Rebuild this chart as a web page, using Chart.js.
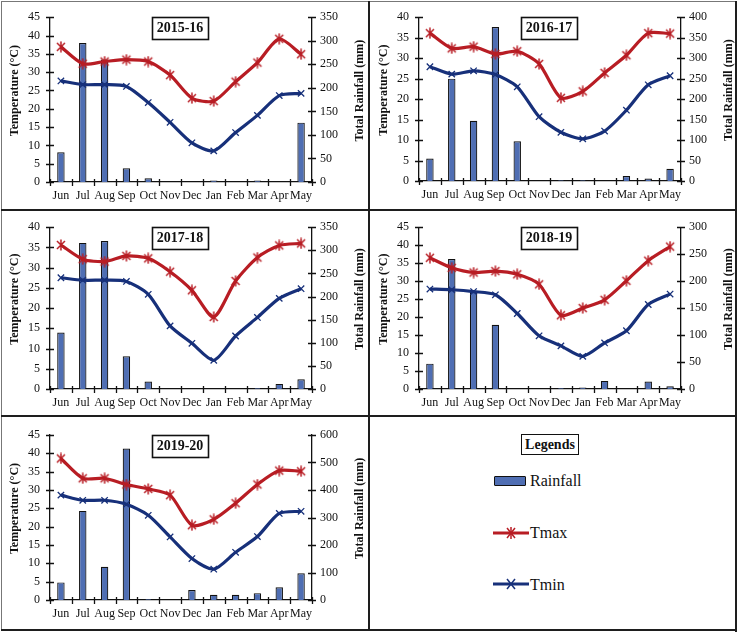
<!DOCTYPE html>
<html><head><meta charset="utf-8">
<script src="https://cdn.jsdelivr.net/npm/chart.js@4/dist/chart.umd.min.js"></script>
<style>
html,body{margin:0;padding:0;background:#fff}
body{width:739px;height:633px;overflow:hidden;position:relative;font-family:"Liberation Serif","Times New Roman",serif;color:#111}
.p{position:absolute}
.ln{position:absolute;background:#1e1e1e}
canvas{display:block}
</style></head><body>

<script>
// ---------- data ----------
const months = ['Jun','Jul','Aug','Sep','Oct','Nov','Dec','Jan','Feb','Mar','Apr','May'];

const rain1516 = [63, 295, 260, 29, 8, 0, 0, 3, 0, 3, 0, 126];
const tmax1516 = [36.9, 32.3, 32.9, 33.4, 32.9, 29.2, 22.9, 22.1, 27.4, 32.6, 39.1, 34.9];
const tmin1516 = [27.6, 26.6, 26.6, 26.1, 21.7, 16.3, 10.7, 8.5, 13.5, 18.2, 23.6, 24.2];

const rain1617 = [55, 250, 147, 376, 97, 0, 2, 2, 0, 12, 6, 30];
const tmax1617 = [36.1, 32.4, 32.8, 31.0, 31.7, 28.6, 20.3, 21.9, 26.4, 30.7, 36.1, 36.0];
const tmin1617 = [27.9, 26.1, 26.9, 26.0, 23.0, 15.7, 11.9, 10.3, 12.2, 17.3, 23.5, 25.7];

const rain1718 = [122, 316, 320, 71, 16, 0, 0, 0, 0, 2, 11, 21];
const tmax1718 = [35.6, 32.1, 31.5, 32.9, 32.3, 29.0, 24.4, 17.8, 26.7, 32.5, 35.5, 36.0];
const tmin1718 = [27.5, 26.9, 26.9, 26.6, 23.4, 15.6, 11.3, 7.1, 13.1, 17.7, 22.4, 24.8];

const rain1819 = [47, 241, 182, 119, 0, 0, 2, 3, 15, 0, 14, 5];
const tmax1819 = [36.5, 33.7, 32.4, 32.8, 31.9, 29.1, 20.5, 22.5, 24.8, 30.1, 35.7, 39.6];
const tmin1819 = [27.8, 27.6, 27.1, 26.2, 21.0, 14.8, 12.0, 9.1, 12.8, 16.2, 23.5, 26.4];

const rain1920 = [64, 324, 121, 551, 4, 0, 36, 19, 19, 25, 46, 97];
const tmax1920 = [38.6, 33.2, 33.2, 31.5, 30.3, 28.6, 20.4, 22.0, 26.4, 31.5, 35.3, 35.1];
const tmin1920 = [28.6, 27.2, 27.2, 26.1, 23.1, 17.2, 11.3, 8.4, 13.0, 17.3, 23.6, 24.2];

const seasons = ['2015-16','2016-17','2017-18','2018-19','2019-20'];
const tempMax = [45, 40, 40, 45, 45];
const rainMax = [350, 400, 350, 300, 600];
const rainStep = [50, 50, 50, 50, 100];

const leftTitle = 'Temperature (°C)';
const rightTitle = 'Total Rainfall (mm)';
const legendLabels = ['Rainfall', 'Tmax', 'Tmin'];
</script>

<div class="p" style="left:0;top:0"><canvas id="c0" width="369" height="210"></canvas></div>
<div class="p" style="left:369px;top:0"><canvas id="c1" width="370" height="210"></canvas></div>
<div class="p" style="left:0;top:210px"><canvas id="c2" width="369" height="206"></canvas></div>
<div class="p" style="left:369px;top:210px"><canvas id="c3" width="370" height="206"></canvas></div>
<div class="p" style="left:0;top:416px"><canvas id="c4" width="369" height="217"></canvas></div>

<!-- legend panel -->
<div class="p" style="left:521px;top:434px;width:56px;height:19px;border:1.5px solid #111;font-weight:bold;font-size:14px;line-height:19px;text-align:center" id="legTitle">Legends</div>
<div class="p" style="left:494px;top:476px;width:30px;height:8px;background:#4F6EB3;border:1.6px solid #111;border-radius:1px"></div>
<div class="p" id="lg0" style="left:530px;top:471px;font-size:16px;line-height:20px"></div>
<svg class="p" style="left:492px;top:525px" width="38" height="16">
  <line x1="1" y1="8" x2="37" y2="8" stroke="#B81D24" stroke-width="3"/>
  <g stroke="#B81D24" stroke-width="1.5"><line x1="15" y1="3" x2="23" y2="13"/><line x1="15" y1="13" x2="23" y2="3"/><line x1="19" y1="2" x2="19" y2="14"/></g>
</svg>
<div class="p" id="lg1" style="left:530px;top:523px;font-size:16px;line-height:20px"></div>
<svg class="p" style="left:492px;top:576px" width="38" height="16">
  <line x1="1" y1="8" x2="37" y2="8" stroke="#17307A" stroke-width="3"/>
  <g stroke="#17307A" stroke-width="1.5"><line x1="15" y1="3" x2="23" y2="13"/><line x1="15" y1="13" x2="23" y2="3"/></g>
</svg>
<div class="p" id="lg2" style="left:530px;top:575px;font-size:16px;line-height:20px"></div>

<!-- panel borders -->
<div class="ln" style="left:1px;top:1px;width:1px;height:630px;background:#777"></div>
<div class="ln" style="left:1px;top:1px;width:736px;height:1px;background:#777"></div>
<div class="ln" style="left:735px;top:1px;width:2px;height:631px"></div>
<div class="ln" style="left:1px;top:629px;width:736px;height:2px"></div>
<div class="ln" style="left:368px;top:1px;width:2px;height:630px"></div>
<div class="ln" style="left:1px;top:209px;width:736px;height:2px"></div>
<div class="ln" style="left:1px;top:415px;width:736px;height:2px"></div>

<script>
document.getElementById('lg0').textContent = legendLabels[0];
document.getElementById('lg1').textContent = legendLabels[1];
document.getElementById('lg2').textContent = legendLabels[2];

const FONT = '"Liberation Serif","Times New Roman",serif';
const BAR = '#4F6EB3', RED = '#B81D24', NAVY = '#17307A';

const geom = [
  {W:369,H:210,T:12,B:182},
  {W:370,H:210,T:12,B:181},
  {W:369,H:206,T:14,B:179},
  {W:370,H:206,T:14,B:179},
  {W:369,H:217,T:19,B:184}
];
const L = 50, R = 312;

const rains = [rain1516, rain1617, rain1718, rain1819, rain1920];
const tmaxs = [tmax1516, tmax1617, tmax1718, tmax1819, tmax1920];
const tmins = [tmin1516, tmin1617, tmin1718, tmin1819, tmin1920];

// Excel-like "star" marker: x with a vertical bar
function makeStar(color) {
  const c = document.createElement('canvas');
  c.width = 12; c.height = 12;
  const g = c.getContext('2d');
  g.strokeStyle = color; g.lineWidth = 1.5;
  g.beginPath();
  g.moveTo(2, 2); g.lineTo(10, 10);
  g.moveTo(2, 10); g.lineTo(10, 2);
  g.moveTo(6, 0.5); g.lineTo(6, 11.5);
  g.stroke();
  return c;
}
const starRed = makeStar(RED);

const decor = {
  id: 'decor',
  afterDraw(chart, args, opts) {
    const ctx = chart.ctx, a = chart.chartArea;
    const y = chart.scales.y, y1 = chart.scales.y1, x = chart.scales.x;
    ctx.save();
    ctx.strokeStyle = '#111';
    ctx.lineWidth = 1.3;
    ctx.beginPath();
    y.ticks.forEach(t => { const py = Math.round(y.getPixelForValue(t.value)) + 0.5; ctx.moveTo(a.left - 4, py); ctx.lineTo(a.left + 4, py); });
    y1.ticks.forEach(t => { const py = Math.round(y1.getPixelForValue(t.value)) + 0.5; ctx.moveTo(a.right - 4, py); ctx.lineTo(a.right + 4, py); });
    const sp = x.getPixelForValue(1) - x.getPixelForValue(0);
    for (let i = 0; i <= months.length; i++) {
      const px = Math.round(x.getPixelForValue(0) - sp / 2 + i * sp) + 0.5;
      ctx.moveTo(px, a.bottom - 3); ctx.lineTo(px, a.bottom + 4);
    }
    ctx.stroke();
    ctx.fillStyle = '#111';
    ctx.font = 'bold 12px ' + FONT;
    ctx.textAlign = 'center'; ctx.textBaseline = 'middle';
    const cy = (a.top + a.bottom) / 2 - 9;
    ctx.save(); ctx.translate(15, cy); ctx.rotate(-Math.PI / 2); ctx.fillText(leftTitle, 0, 0); ctx.restore();
    ctx.save(); ctx.translate(360, cy); ctx.rotate(-Math.PI / 2); ctx.fillText(rightTitle, 0, 0); ctx.restore();
    ctx.font = 'bold 14px ' + FONT;
    const tx = (a.left + a.right) / 2 - 1, ty = a.top + 10.5;
    const w = 56, h = 22;
    ctx.fillStyle = '#fff';
    ctx.fillRect(tx - w / 2, ty - h / 2, w, h);
    ctx.lineWidth = 1.6;
    ctx.strokeRect(Math.round(tx - w / 2) + 0.5, Math.round(ty - h / 2) + 0.5, w, h);
    ctx.fillStyle = '#111';
    ctx.fillText(opts.title, tx, ty + 1);
    ctx.restore();
  }
};

seasons.forEach((s, i) => {
  const g = geom[i];
  new Chart(document.getElementById('c' + i), {
    type: 'bar',
    plugins: [decor],
    data: {
      labels: months,
      datasets: [
        { type: 'line', label: 'Tmax', data: tmaxs[i], yAxisID: 'y', borderColor: RED, backgroundColor: RED,
          borderWidth: 3.2, tension: 0.25, pointStyle: starRed, pointRadius: 5, order: 1 },
        { type: 'line', label: 'Tmin', data: tmins[i], yAxisID: 'y', borderColor: NAVY, backgroundColor: NAVY,
          borderWidth: 3.2, tension: 0.25, pointStyle: 'crossRot', pointRadius: 4.5, pointBorderWidth: 1.3, pointBorderColor: NAVY, order: 2 },
        { type: 'bar', label: 'Rainfall', data: rains[i], yAxisID: 'y1', backgroundColor: BAR, borderColor: '#111',
          borderWidth: 1.2, categoryPercentage: 1, barPercentage: 0.34, order: 3 }
      ]
    },
    options: {
      responsive: false,
      animation: false,
      events: [],
      layout: { padding: { top: g.T, left: 0, right: 0, bottom: 0 } },
      plugins: { legend: { display: false }, tooltip: { enabled: false }, decor: { title: s } },
      scales: {
        x: {
          grid: { display: false, drawTicks: false, offset: true },
          border: { display: true, color: '#111', width: 1.3 },
          ticks: { color: '#111', font: { family: FONT, size: 12 }, padding: 7, maxRotation: 0, autoSkip: false },
          afterFit: sc => { sc.height = g.H - g.B; }
        },
        y: {
          position: 'left', min: 0, max: tempMax[i],
          grid: { display: false, drawTicks: false },
          border: { display: true, color: '#111', width: 1.3 },
          ticks: { stepSize: 5, color: '#111', font: { family: FONT, size: 12 }, padding: 10 },
          afterFit: sc => { sc.width = L; }
        },
        y1: {
          position: 'right', min: 0, max: rainMax[i],
          grid: { display: false, drawTicks: false },
          border: { display: true, color: '#111', width: 1.3 },
          ticks: { stepSize: rainStep[i], color: '#111', font: { family: FONT, size: 12 }, padding: 8 },
          afterFit: sc => { sc.width = g.W - R; }
        }
      }
    }
  });
});
</script>
</body></html>
